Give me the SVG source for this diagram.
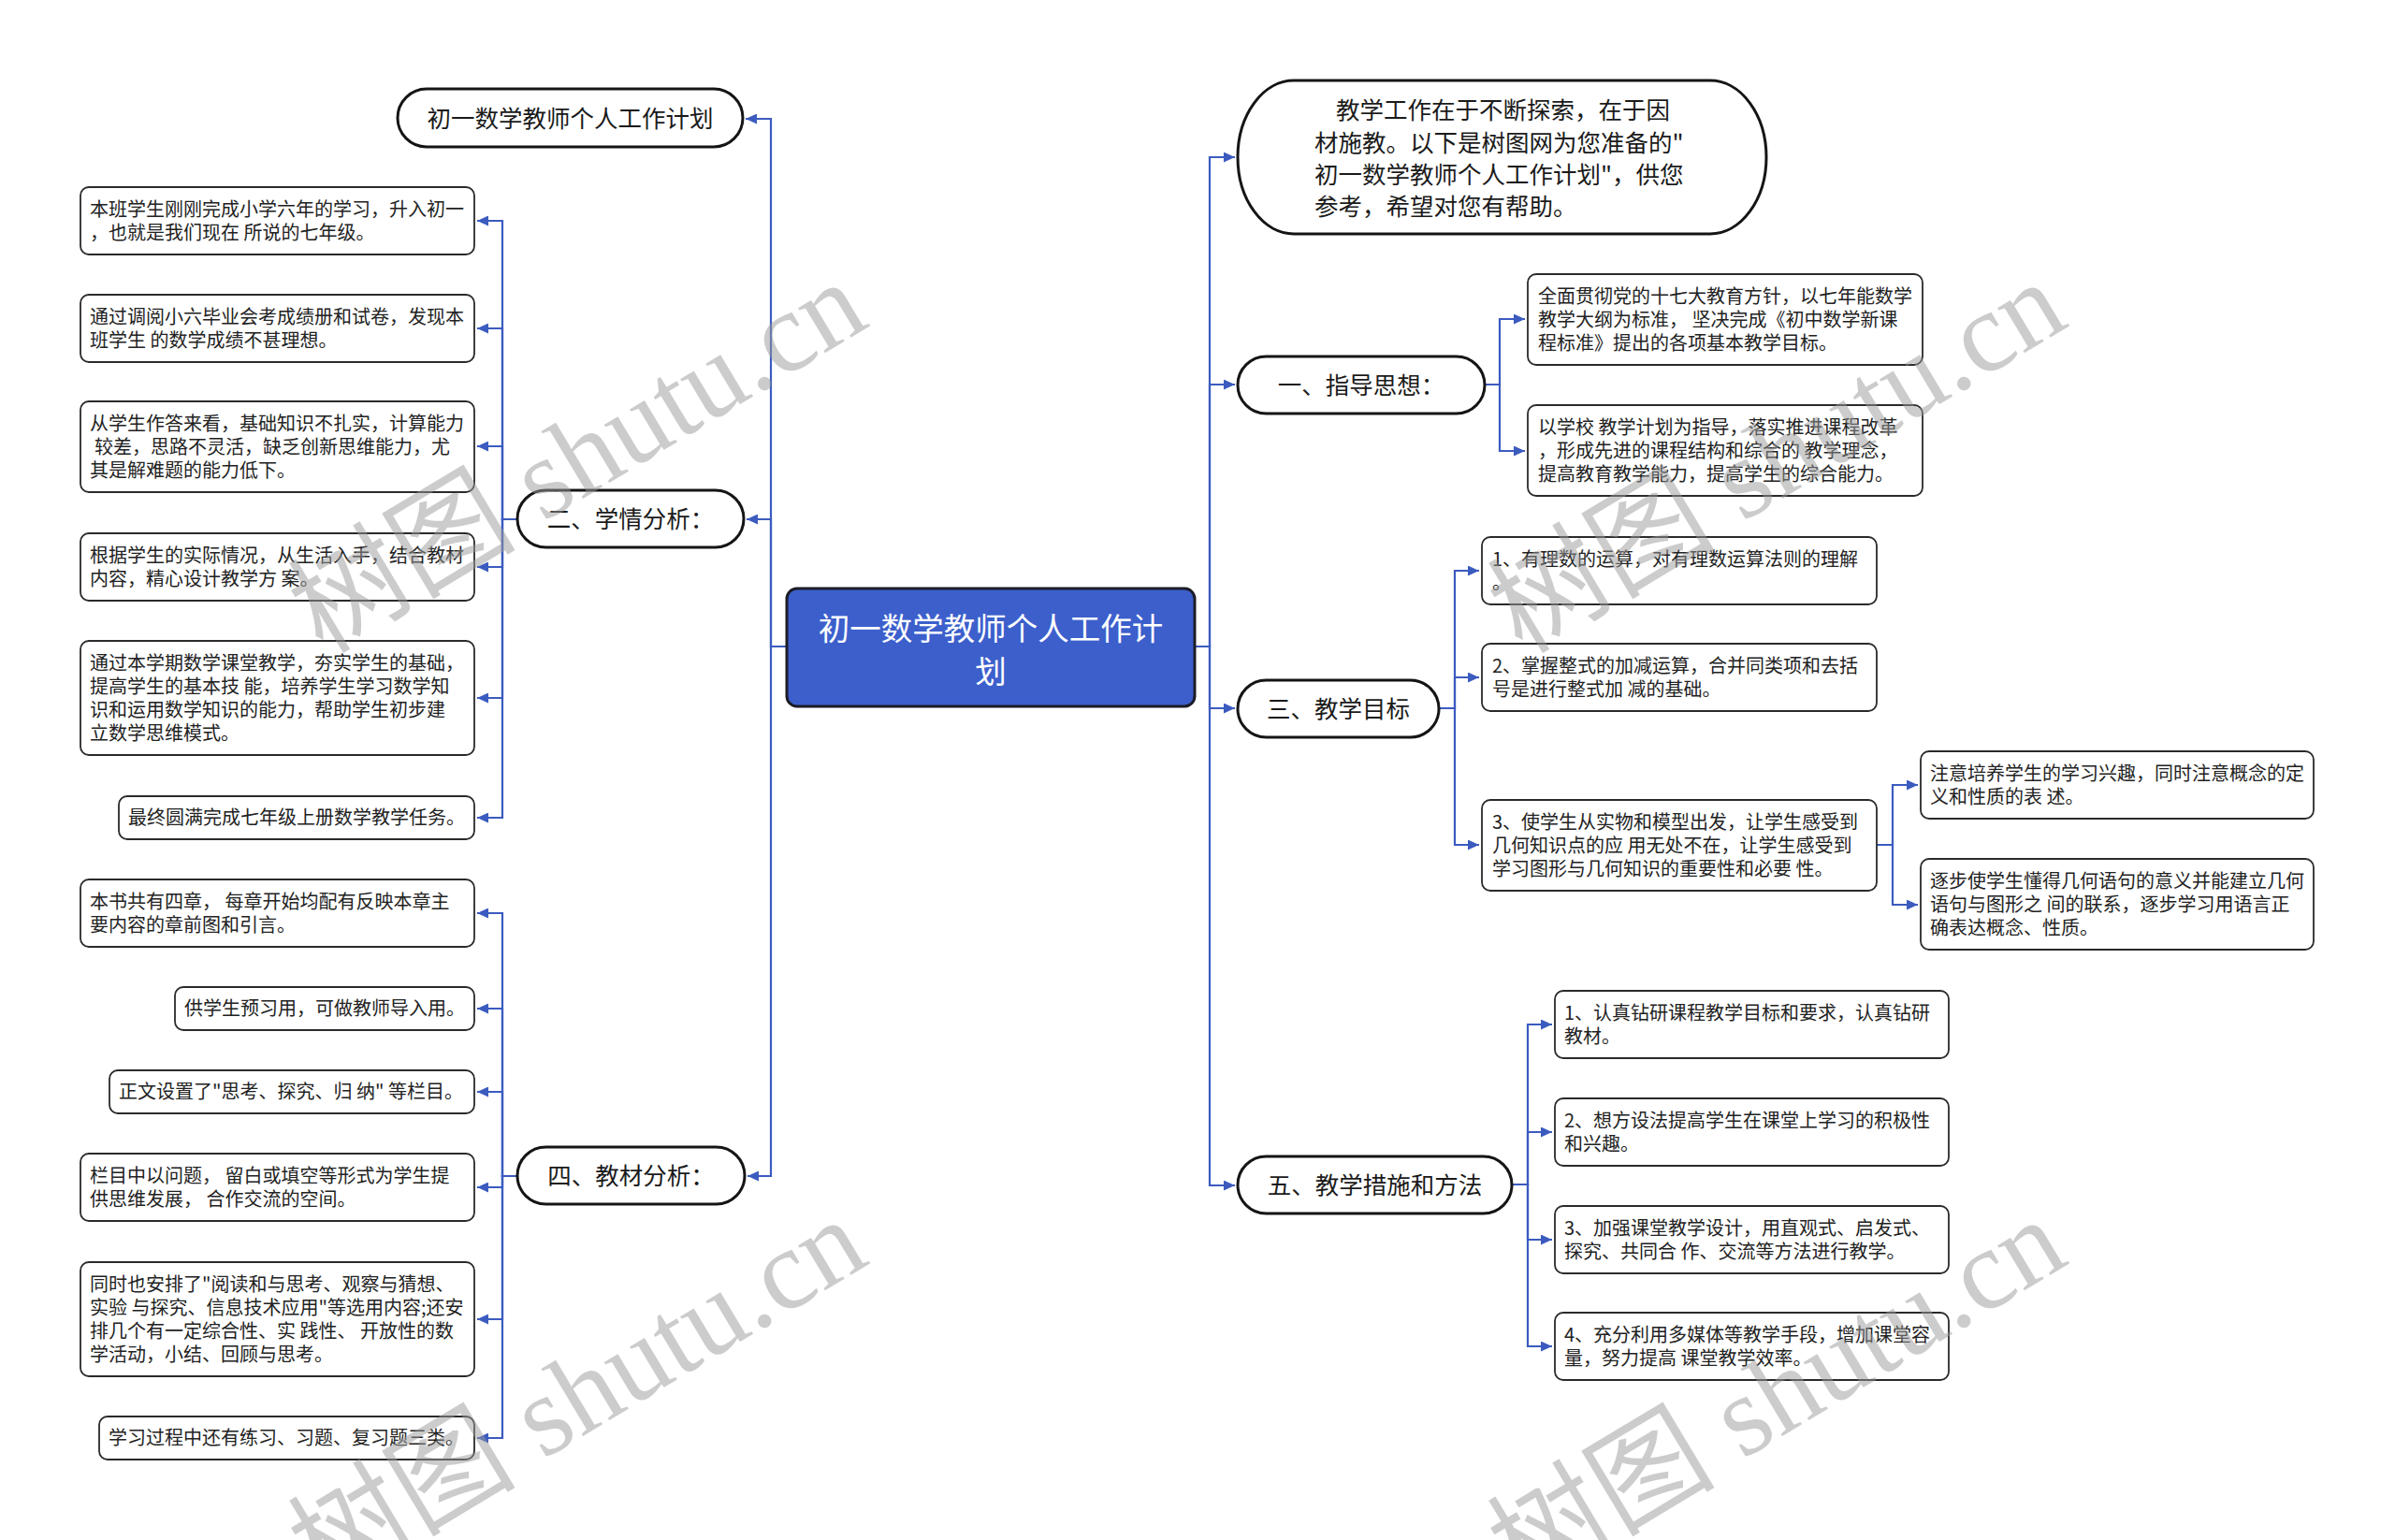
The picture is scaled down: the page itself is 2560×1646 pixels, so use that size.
<svg xmlns="http://www.w3.org/2000/svg" width="2560" height="1646" viewBox="0 0 2560 1646">
<style>
.bg{fill:#ffffff}
.box{fill:#ffffff;stroke:#2a2a2a;stroke-width:1.8}
.pill{fill:#ffffff;stroke:#151515;stroke-width:3}
.root{fill:#3c5fcc;stroke:#1c1c28;stroke-width:3}
.t{font-family:"Noto Sans CJK SC","Noto Sans",sans-serif;font-size:20px;fill:#222222}
.tn{font-family:"Noto Sans CJK SC","Noto Sans",sans-serif;font-size:25.5px;fill:#1a1a1a}
.tr{font-family:"Noto Sans CJK SC","Noto Sans",sans-serif;font-size:33.5px;fill:#ffffff}
.edge{fill:none;stroke:#3b5bbf;stroke-width:2.2}
.wm{font-family:"Liberation Serif","Noto Sans CJK SC",serif;font-size:122px;fill:#9a9a9a;opacity:0.5}
</style>
<defs>
<marker id="arr" markerUnits="userSpaceOnUse" markerWidth="13" markerHeight="11" refX="12" refY="5.5" orient="auto">
<path d="M0,0 L12,5.5 L0,11 z" fill="#3b5bbf"/>
</marker>
</defs>
<rect class="bg" x="0" y="0" width="2560" height="1646"/>

<g id="connectors">
<path class="edge" marker-end="url(#arr)" d="M841,691 H824 V127 H797"/>
<path class="edge" marker-end="url(#arr)" d="M841,691 H824 V555 H798"/>
<path class="edge" marker-end="url(#arr)" d="M841,691 H824 V1257 H799"/>
<path class="edge" marker-end="url(#arr)" d="M553,555 H537 V236 H510"/>
<path class="edge" marker-end="url(#arr)" d="M553,555 H537 V351 H510"/>
<path class="edge" marker-end="url(#arr)" d="M553,555 H537 V477 H510"/>
<path class="edge" marker-end="url(#arr)" d="M553,555 H537 V606 H510"/>
<path class="edge" marker-end="url(#arr)" d="M553,555 H537 V746 H510"/>
<path class="edge" marker-end="url(#arr)" d="M553,555 H537 V874 H510"/>
<path class="edge" marker-end="url(#arr)" d="M553,1257 H537 V976 H510"/>
<path class="edge" marker-end="url(#arr)" d="M553,1257 H537 V1078 H510"/>
<path class="edge" marker-end="url(#arr)" d="M553,1257 H537 V1167 H510"/>
<path class="edge" marker-end="url(#arr)" d="M553,1257 H537 V1269 H510"/>
<path class="edge" marker-end="url(#arr)" d="M553,1257 H537 V1410 H510"/>
<path class="edge" marker-end="url(#arr)" d="M553,1257 H537 V1537 H510"/>
<path class="edge" marker-end="url(#arr)" d="M1277,691 H1293 V168 H1320"/>
<path class="edge" marker-end="url(#arr)" d="M1277,691 H1293 V411 H1320"/>
<path class="edge" marker-end="url(#arr)" d="M1277,691 H1293 V757 H1320"/>
<path class="edge" marker-end="url(#arr)" d="M1277,691 H1293 V1267 H1320"/>
<path class="edge" marker-end="url(#arr)" d="M1587,411 H1603 V341 H1630"/>
<path class="edge" marker-end="url(#arr)" d="M1587,411 H1603 V482 H1630"/>
<path class="edge" marker-end="url(#arr)" d="M1538,757 H1555 V610 H1581"/>
<path class="edge" marker-end="url(#arr)" d="M1538,757 H1555 V724 H1581"/>
<path class="edge" marker-end="url(#arr)" d="M1538,757 H1555 V903 H1581"/>
<path class="edge" marker-end="url(#arr)" d="M2006,903 H2023 V839 H2050"/>
<path class="edge" marker-end="url(#arr)" d="M2006,903 H2023 V967 H2050"/>
<path class="edge" marker-end="url(#arr)" d="M1616,1266 H1633 V1095 H1659"/>
<path class="edge" marker-end="url(#arr)" d="M1616,1266 H1633 V1210 H1659"/>
<path class="edge" marker-end="url(#arr)" d="M1616,1266 H1633 V1325 H1659"/>
<path class="edge" marker-end="url(#arr)" d="M1616,1266 H1633 V1439 H1659"/>
</g>

<g id="root">
<rect class="root" x="841" y="629" width="436" height="126" rx="11"/>
<text class="tr" x="1059" y="684" text-anchor="middle">初一数学教师个人工作计</text>
<text class="tr" x="1059" y="730" text-anchor="middle">划</text>
</g>

<g id="n-title">
<rect class="pill" x="425" y="95" width="369" height="62" rx="31"/>
<text class="tn" x="609.5" y="135.5" text-anchor="middle">初一数学教师个人工作计划</text>
</g>

<g id="n-xueqing">
<rect class="pill" x="553" y="524" width="242" height="61" rx="30.5"/>
<text class="tn" x="674" y="564" text-anchor="middle">二、学情分析：</text>
</g>

<g id="b1">
<rect class="box" x="86" y="200" width="421" height="72" rx="9"/>
<text class="t" x="96" y="231">本班学生刚刚完成小学六年的学习，升入初一</text>
<text class="t" x="96" y="256">，也就是我们现在 所说的七年级。</text>
</g>
<g id="b2">
<rect class="box" x="86" y="315" width="421" height="72" rx="9"/>
<text class="t" x="96" y="346">通过调阅小六毕业会考成绩册和试卷，发现本</text>
<text class="t" x="96" y="371">班学生 的数学成绩不甚理想。</text>
</g>
<g id="b3">
<rect class="box" x="86" y="429" width="421" height="97" rx="9"/>
<text class="t" x="96" y="460">从学生作答来看，基础知识不扎实，计算能力</text>
<text class="t" x="101" y="485">较差，思路不灵活，缺乏创新思维能力，尤</text>
<text class="t" x="96" y="510">其是解难题的能力低下。</text>
</g>
<g id="b4">
<rect class="box" x="86" y="570" width="421" height="72" rx="9"/>
<text class="t" x="96" y="601">根据学生的实际情况，从生活入手，结合教材</text>
<text class="t" x="96" y="626">内容，精心设计教学方 案。</text>
</g>
<g id="b5">
<rect class="box" x="86" y="685" width="421" height="122" rx="9"/>
<text class="t" x="96" y="716">通过本学期数学课堂教学，夯实学生的基础，</text>
<text class="t" x="96" y="741">提高学生的基本技 能，培养学生学习数学知</text>
<text class="t" x="96" y="766">识和运用数学知识的能力，帮助学生初步建</text>
<text class="t" x="96" y="791">立数学思维模式。</text>
</g>
<g id="b6">
<rect class="box" x="127" y="851" width="380" height="46" rx="9"/>
<text class="t" x="137" y="881">最终圆满完成七年级上册数学教学任务。</text>
</g>

<g id="n-jiaocai">
<rect class="pill" x="553" y="1226" width="243" height="61" rx="30.5"/>
<text class="tn" x="674.5" y="1266" text-anchor="middle">四、教材分析：</text>
</g>

<g id="b7">
<rect class="box" x="86" y="940" width="421" height="72" rx="9"/>
<text class="t" x="96" y="971">本书共有四章， 每章开始均配有反映本章主</text>
<text class="t" x="96" y="996">要内容的章前图和引言。</text>
</g>
<g id="b8">
<rect class="box" x="187" y="1055" width="320" height="46" rx="9"/>
<text class="t" x="197" y="1085">供学生预习用，可做教师导入用。</text>
</g>
<g id="b9">
<rect class="box" x="117" y="1144" width="390" height="46" rx="9"/>
<text class="t" x="127" y="1174">正文设置了"思考、探究、归 纳" 等栏目。</text>
</g>
<g id="b10">
<rect class="box" x="86" y="1233" width="421" height="72" rx="9"/>
<text class="t" x="96" y="1264">栏目中以问题， 留白或填空等形式为学生提</text>
<text class="t" x="96" y="1289">供思维发展， 合作交流的空间。</text>
</g>
<g id="b11">
<rect class="box" x="86" y="1349" width="421" height="122" rx="9"/>
<text class="t" x="96" y="1380">同时也安排了"阅读和与思考、观察与猜想、</text>
<text class="t" x="96" y="1405">实验 与探究、信息技术应用"等选用内容;还安</text>
<text class="t" x="96" y="1430">排几个有一定综合性、实 践性、 开放性的数</text>
<text class="t" x="96" y="1455">学活动，小结、回顾与思考。</text>
</g>
<g id="b12">
<rect class="box" x="106" y="1514" width="401" height="46" rx="9"/>
<text class="t" x="116" y="1544">学习过程中还有练习、习题、复习题三类。</text>
</g>

<g id="n-intro">
<rect class="pill" x="1323" y="86" width="565" height="164" rx="60" ry="82"/>
<text class="tn" x="1428" y="127">教学工作在于不断探索，在于因</text>
<text class="tn" x="1405" y="161.5">材施教。以下是树图网为您准备的"</text>
<text class="tn" x="1405" y="196">初一数学教师个人工作计划"，供您</text>
<text class="tn" x="1405" y="230">参考，希望对您有帮助。</text>
</g>

<g id="n-zhidao">
<rect class="pill" x="1323" y="381" width="264" height="61" rx="30.5"/>
<text class="tn" x="1455" y="421" text-anchor="middle">一、指导思想：</text>
</g>
<g id="a1">
<rect class="box" x="1633" y="293" width="422" height="97" rx="9"/>
<text class="t" x="1644" y="324">全面贯彻党的十七大教育方针，以七年能数学</text>
<text class="t" x="1644" y="349">教学大纲为标准， 坚决完成《初中数学新课</text>
<text class="t" x="1644" y="374">程标准》提出的各项基本教学目标。</text>
</g>
<g id="a2">
<rect class="box" x="1633" y="433" width="422" height="97" rx="9"/>
<text class="t" x="1644" y="464">以学校 教学计划为指导，落实推进课程改革</text>
<text class="t" x="1644" y="489">，形成先进的课程结构和综合的 教学理念，</text>
<text class="t" x="1644" y="514">提高教育教学能力，提高学生的综合能力。</text>
</g>

<g id="n-mubiao">
<rect class="pill" x="1323" y="727" width="215" height="61" rx="30.5"/>
<text class="tn" x="1430.5" y="767" text-anchor="middle">三、教学目标</text>
</g>
<g id="c1">
<rect class="box" x="1584" y="574" width="422" height="72" rx="9"/>
<text class="t" x="1595" y="605">1、有理数的运算，对有理数运算法则的理解</text>
<text class="t" x="1595" y="630">。</text>
</g>
<g id="c2">
<rect class="box" x="1584" y="688" width="422" height="72" rx="9"/>
<text class="t" x="1595" y="719">2、掌握整式的加减运算，合并同类项和去括</text>
<text class="t" x="1595" y="744">号是进行整式加 减的基础。</text>
</g>
<g id="c3">
<rect class="box" x="1584" y="855" width="422" height="97" rx="9"/>
<text class="t" x="1595" y="886">3、使学生从实物和模型出发，让学生感受到</text>
<text class="t" x="1595" y="911">几何知识点的应 用无处不在，让学生感受到</text>
<text class="t" x="1595" y="936">学习图形与几何知识的重要性和必要 性。</text>
</g>
<g id="g1">
<rect class="box" x="2053" y="803" width="420" height="72" rx="9"/>
<text class="t" x="2063" y="834">注意培养学生的学习兴趣，同时注意概念的定</text>
<text class="t" x="2063" y="859">义和性质的表 述。</text>
</g>
<g id="g2">
<rect class="box" x="2053" y="918" width="420" height="97" rx="9"/>
<text class="t" x="2063" y="949">逐步使学生懂得几何语句的意义并能建立几何</text>
<text class="t" x="2063" y="974">语句与图形之 间的联系，逐步学习用语言正</text>
<text class="t" x="2063" y="999">确表达概念、性质。</text>
</g>

<g id="n-cuoshi">
<rect class="pill" x="1323" y="1236" width="293" height="61" rx="30.5"/>
<text class="tn" x="1469.5" y="1276" text-anchor="middle">五、教学措施和方法</text>
</g>
<g id="d1">
<rect class="box" x="1662" y="1059" width="421" height="72" rx="9"/>
<text class="t" x="1672" y="1090">1、认真钻研课程教学目标和要求，认真钻研</text>
<text class="t" x="1672" y="1115">教材。</text>
</g>
<g id="d2">
<rect class="box" x="1662" y="1174" width="421" height="72" rx="9"/>
<text class="t" x="1672" y="1205">2、想方设法提高学生在课堂上学习的积极性</text>
<text class="t" x="1672" y="1230">和兴趣。</text>
</g>
<g id="d3">
<rect class="box" x="1662" y="1289" width="421" height="72" rx="9"/>
<text class="t" x="1672" y="1320">3、加强课堂教学设计，用直观式、启发式、</text>
<text class="t" x="1672" y="1345">探究、共同合 作、交流等方法进行教学。</text>
</g>
<g id="d4">
<rect class="box" x="1662" y="1403" width="421" height="72" rx="9"/>
<text class="t" x="1672" y="1434">4、充分利用多媒体等教学手段，增加课堂容</text>
<text class="t" x="1672" y="1459">量，努力提高 课堂教学效率。</text>
</g>

<g id="watermarks">
<text class="wm" transform="translate(345,700) rotate(-31)">树图 shutu.cn</text>
<text class="wm" transform="translate(1627,700) rotate(-31)">树图 shutu.cn</text>
<text class="wm" transform="translate(345,1702) rotate(-31)">树图 shutu.cn</text>
<text class="wm" transform="translate(1627,1702) rotate(-31)">树图 shutu.cn</text>
</g>
</svg>
